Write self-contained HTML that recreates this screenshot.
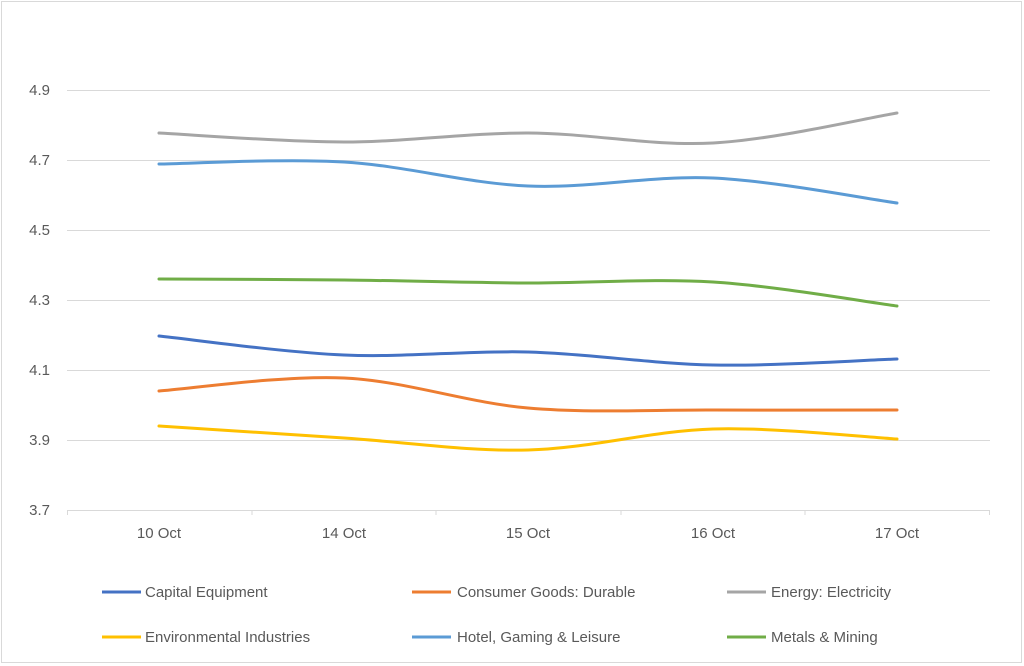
<!DOCTYPE html>
<html><head><meta charset="utf-8"><style>
html,body{margin:0;padding:0;background:#fff;}
svg{display:block;font-family:"Liberation Sans",Arial,sans-serif;}
</style></head><body>
<svg id="c" width="1024" height="666" viewBox="0 0 1024 666" xmlns="http://www.w3.org/2000/svg">
<rect x="1.5" y="1.5" width="1020" height="661" fill="#fff" stroke="#d9d9d9" stroke-width="1"/>
<g stroke="#d9d9d9" stroke-width="1">
<line x1="67" y1="90.5" x2="990" y2="90.5"/>
<line x1="67" y1="160.5" x2="990" y2="160.5"/>
<line x1="67" y1="230.5" x2="990" y2="230.5"/>
<line x1="67" y1="300.5" x2="990" y2="300.5"/>
<line x1="67" y1="370.5" x2="990" y2="370.5"/>
<line x1="67" y1="440.5" x2="990" y2="440.5"/>
<line x1="67" y1="510.5" x2="990" y2="510.5"/>
<line x1="67.5" y1="510" x2="67.5" y2="515"/>
<line x1="252" y1="510" x2="252" y2="515"/>
<line x1="436" y1="510" x2="436" y2="515"/>
<line x1="621" y1="510" x2="621" y2="515"/>
<line x1="805" y1="510" x2="805" y2="515"/>
<line x1="989.5" y1="510" x2="989.5" y2="515"/>
</g>
<g fill="#595959" font-size="15" text-anchor="end">
<text x="50" y="95">4.9</text><text x="50" y="165">4.7</text><text x="50" y="235">4.5</text>
<text x="50" y="305">4.3</text><text x="50" y="375">4.1</text><text x="50" y="445">3.9</text>
<text x="50" y="515">3.7</text>
</g>
<g fill="#595959" font-size="15" text-anchor="middle">
<text x="159" y="538">10 Oct</text><text x="344" y="538">14 Oct</text><text x="528" y="538">15 Oct</text>
<text x="713" y="538">16 Oct</text><text x="897" y="538">17 Oct</text>
</g>
<g id="series" fill="none" stroke-width="3" stroke-linecap="round"></g>
<g stroke-width="3">
<line x1="102" y1="592" x2="141" y2="592" stroke="#4472C4"/>
<line x1="412" y1="592" x2="451" y2="592" stroke="#ED7D31"/>
<line x1="727" y1="592" x2="766" y2="592" stroke="#A5A5A5"/>
<line x1="102" y1="637" x2="141" y2="637" stroke="#FFC000"/>
<line x1="412" y1="637" x2="451" y2="637" stroke="#5B9BD5"/>
<line x1="727" y1="637" x2="766" y2="637" stroke="#70AD47"/>
</g>
<g fill="#595959" font-size="15">
<text x="145" y="597">Capital Equipment</text>
<text x="457" y="597">Consumer Goods: Durable</text>
<text x="771" y="597">Energy: Electricity</text>
<text x="145" y="642">Environmental Industries</text>
<text x="457" y="642">Hotel, Gaming &amp; Leisure</text>
<text x="771" y="642">Metals &amp; Mining</text>
</g>
</svg>
<script>
var xs=[159,344,528,713,897];
var data=[
["#A5A5A5",[133,142,133,143,113]],
["#5B9BD5",[164,162,186,178,203]],
["#70AD47",[279,280,283,282,306]],
["#4472C4",[336,355,352,365,359]],
["#ED7D31",[391,378,408,410,410]],
["#FFC000",[426,438,450,429,439]]
];
var g=document.getElementById('series');
data.forEach(function(s){
 var p=s[1].map(function(y,i){return [xs[i],y];});
 var d="M"+p[0][0]+","+p[0][1];
 for(var i=0;i<p.length-1;i++){
  var p0=p[i-1]||p[i],p1=p[i],p2=p[i+1],p3=p[i+2]||p[i+1];
  var c1=[p1[0]+(p2[0]-p0[0])/6,p1[1]+(p2[1]-p0[1])/6];
  var c2=[p2[0]-(p3[0]-p1[0])/6,p2[1]-(p3[1]-p1[1])/6];
  d+=" C"+c1.join(",")+" "+c2.join(",")+" "+p2.join(",");
 }
 var el=document.createElementNS("http://www.w3.org/2000/svg","path");
 el.setAttribute("d",d);el.setAttribute("stroke",s[0]);
 g.appendChild(el);
});
</script>
</body></html>
